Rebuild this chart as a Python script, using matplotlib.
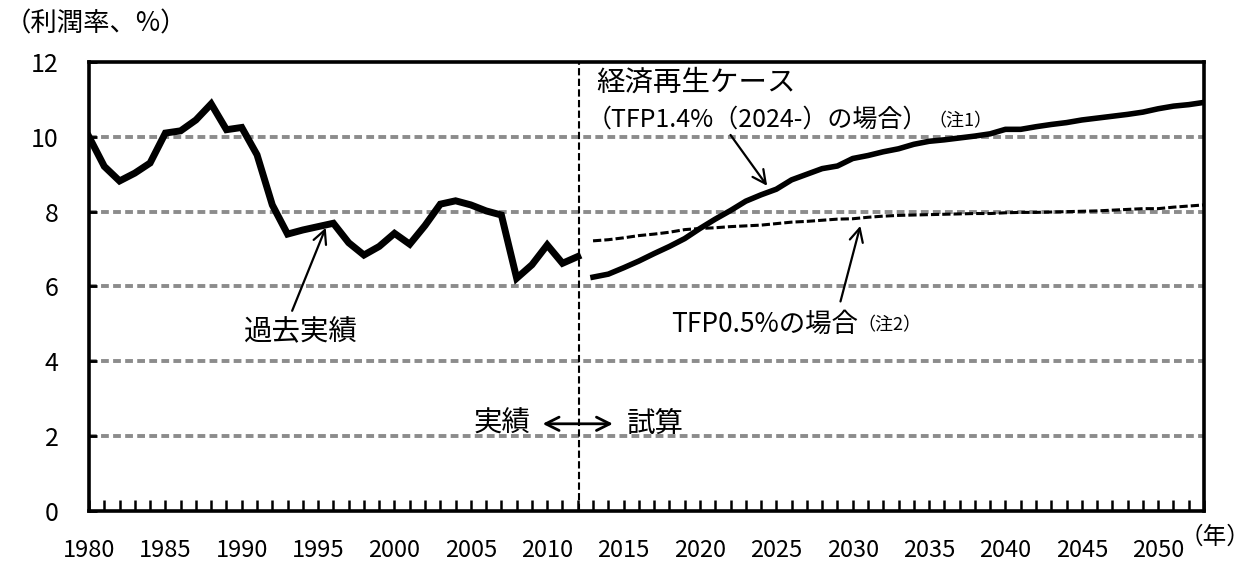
import matplotlib
matplotlib.use('Agg')
import matplotlib.pyplot as plt
from matplotlib.ticker import MultipleLocator, FixedLocator

plt.rcParams['font.family'] = ['Noto Sans CJK JP', 'DejaVu Sans']

# past actual profit rate (1980-2012)
past_years = list(range(1980, 2013))
past_rate = [10.00, 9.21, 8.82, 9.03, 9.30, 10.10, 10.16, 10.45, 10.88, 10.19,
             10.25, 9.52, 8.18, 7.40, 7.51, 7.60, 7.69, 7.17, 6.84, 7.07,
             7.42, 7.13, 7.63, 8.20, 8.29, 8.18, 8.02, 7.91, 6.22, 6.58,
             7.11, 6.62, 6.80]

# projections (2013-2053)
proj_years = list(range(2013, 2054))
revival_rate = [6.25, 6.33, 6.50, 6.68, 6.88, 7.07, 7.28, 7.55, 7.80, 8.03,
                8.28, 8.45, 8.60, 8.85, 9.00, 9.15, 9.22, 9.42, 9.50, 9.60,
                9.68, 9.80, 9.88, 9.92, 9.97, 10.02, 10.08, 10.20, 10.20, 10.27,
                10.33, 10.38, 10.45, 10.50, 10.55, 10.60, 10.66, 10.75, 10.82, 10.86,
                10.92]
tfp05_rate = [7.22, 7.25, 7.30, 7.36, 7.40, 7.45, 7.52, 7.55, 7.57, 7.60,
              7.62, 7.64, 7.68, 7.72, 7.74, 7.77, 7.80, 7.81, 7.85, 7.88,
              7.90, 7.91, 7.92, 7.93, 7.94, 7.95, 7.95, 7.97, 7.98, 7.98,
              7.99, 8.00, 8.01, 8.02, 8.04, 8.06, 8.08, 8.08, 8.12, 8.15,
              8.18]

label_years = list(range(1980, 2051, 5))

fig = plt.figure(figsize=(12.5, 5.63), dpi=100)
ax = fig.add_axes([0.0712, 0.0924, 0.892, 0.7975])

for yv in [2, 4, 6, 8, 10]:
    ax.axhline(yv, color='#8c8c8c', lw=2.8, ls=(0, (2.0, 1.1)), zorder=1)

ax.plot(past_years, past_rate, color='black', lw=5, solid_joinstyle='miter', zorder=3)
ax.plot(proj_years, revival_rate, color='black', lw=4, zorder=3)
ax.plot(proj_years, tfp05_rate, color='black', lw=2.2, ls=(0, (2.7, 1.0)), zorder=3)

ax.axvline(2012.05, color='black', lw=1.5, ls=(0, (3.5, 1.6)), zorder=2)

ax.set_xlim(1980, 2053)
ax.set_ylim(0, 12)

ax.xaxis.set_major_locator(FixedLocator(label_years))
ax.xaxis.set_minor_locator(MultipleLocator(1))
ax.set_xticklabels([str(y) for y in label_years])
ax.tick_params(axis='x', which='both', direction='in', length=8, width=1.8,
               labelsize=17, pad=20)
ax.yaxis.set_major_locator(MultipleLocator(2))
ax.tick_params(axis='y', which='major', direction='in', length=6, width=2,
               labelsize=18, pad=22)

for sp in ax.spines.values():
    sp.set_linewidth(2.6)

fig.text(0.004, 0.957, '（利潤率、%）', fontsize=19, va='center', ha='left')
fig.text(1.0, 0.045, '（年）', fontsize=17, va='center', ha='right')

# annotations
ax.text(2013.2, 11.45, '経済再生ケース', fontsize=20.5, va='center', ha='left')
t1 = ax.text(2012.6, 10.45, '（TFP1.4%（2024-）の場合）', fontsize=18, va='center', ha='left')
ax.annotate('（注1）', xy=(1.0, 0.1), xycoords=t1, fontsize=13, va='bottom', ha='left')
ax.annotate('', xy=(2024.4, 8.69), xytext=(2022.0, 10.05),
            arrowprops=dict(arrowstyle='->', lw=1.6, color='black',
                            mutation_scale=24, shrinkA=0, shrinkB=0))

t2 = ax.text(2018.1, 5.0, 'TFP0.5%の場合', fontsize=19, va='center', ha='left')
ax.annotate('（注2）', xy=(1.0, 0.1), xycoords=t2, fontsize=13, va='bottom', ha='left')
ax.annotate('', xy=(2030.5, 7.62), xytext=(2029.2, 5.6),
            arrowprops=dict(arrowstyle='->', lw=1.6, color='black',
                            mutation_scale=24, shrinkA=0, shrinkB=0))

ax.text(1993.9, 4.78, '過去実績', fontsize=20.5, va='center', ha='center')
ax.annotate('', xy=(1995.5, 7.57), xytext=(1993.3, 5.35),
            arrowprops=dict(arrowstyle='->', lw=1.6, color='black',
                            mutation_scale=24, shrinkA=0, shrinkB=0))

ax.text(2008.9, 2.33, '実績', fontsize=20.5, va='center', ha='right')
ax.text(2015.2, 2.33, '試算', fontsize=20.5, va='center', ha='left')
ax.annotate('', xy=(2014.3, 2.33), xytext=(2009.7, 2.33),
            arrowprops=dict(arrowstyle='<->', lw=2, color='black',
                            mutation_scale=24, shrinkA=0, shrinkB=0))

fig.savefig('out.png', dpi=100)
